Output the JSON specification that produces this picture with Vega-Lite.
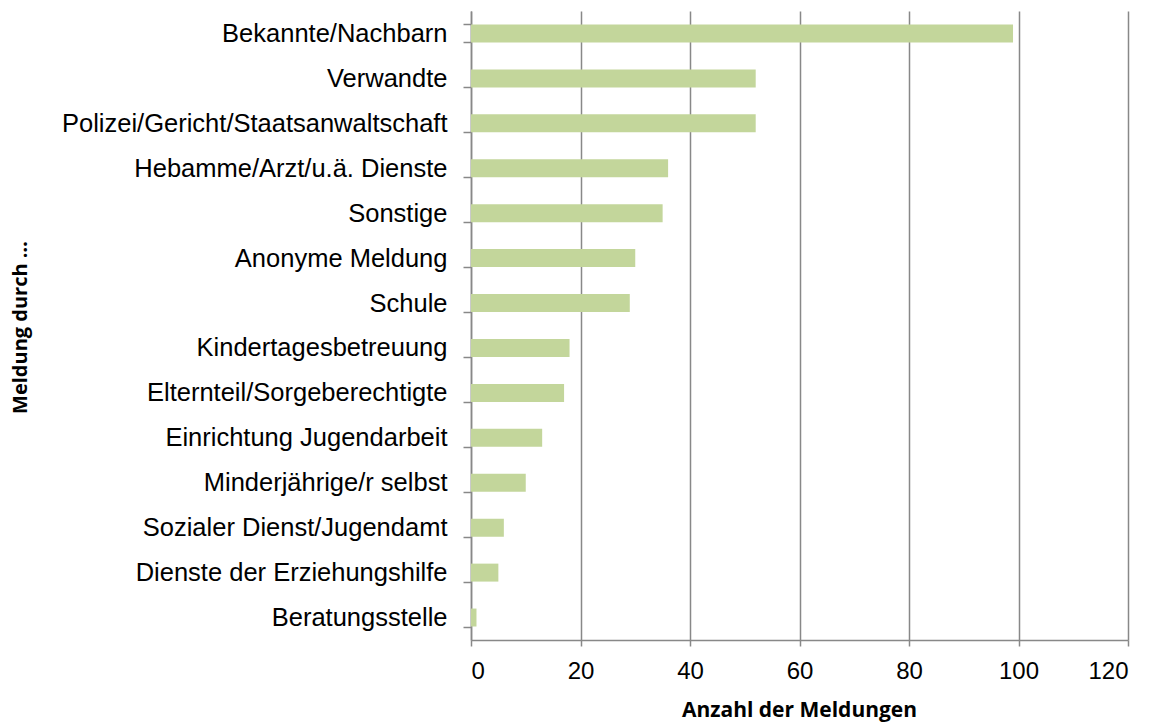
{
  "$schema": "https://vega.github.io/schema/vega-lite/v6.json",
  "width": 657,
  "height": 629,
  "autosize": "none",
  "padding": {"left": 471, "top": 11, "right": 31, "bottom": 86},
  "background": "white",
  "config": {"view": {"stroke": null}},
  "data": {"values": [
    {"quelle": "Bekannte/Nachbarn", "anzahl": 99},
    {"quelle": "Verwandte", "anzahl": 52},
    {"quelle": "Polizei/Gericht/Staatsanwaltschaft", "anzahl": 52},
    {"quelle": "Hebamme/Arzt/u.ä. Dienste", "anzahl": 36},
    {"quelle": "Sonstige", "anzahl": 35},
    {"quelle": "Anonyme Meldung", "anzahl": 30},
    {"quelle": "Schule", "anzahl": 29},
    {"quelle": "Kindertagesbetreuung", "anzahl": 18},
    {"quelle": "Elternteil/Sorgeberechtigte", "anzahl": 17},
    {"quelle": "Einrichtung Jugendarbeit", "anzahl": 13},
    {"quelle": "Minderjährige/r selbst", "anzahl": 10},
    {"quelle": "Sozialer Dienst/Jugendamt", "anzahl": 6},
    {"quelle": "Dienste der Erziehungshilfe", "anzahl": 5},
    {"quelle": "Beratungsstelle", "anzahl": 1}
  ]},
  "mark": {"type": "bar", "color": "#c3d69b"},
  "encoding": {
    "y": {
      "field": "quelle", "type": "nominal", "sort": null,
      "scale": {"paddingInner": 0.6, "paddingOuter": 0.3},
      "axis": {
        "title": "Meldung durch …",
        "titleFont": "Open Sans", "titleFontWeight": "bold", "titleFontSize": 20, "titleColor": "#000",
        "titleX": -451, "titleY": 316, "titleAngle": 270, "titleAlign": "center", "titleBaseline": "middle",
        "labelFont": "Liberation Sans", "labelFontSize": 25.5, "labelColor": "#000",
        "labelPadding": 16, "labelLimit": 500,
        "tickBand": "extent", "tickSize": 8, "tickColor": "#888", "tickWidth": 1.5,
        "domainColor": "#888", "domainWidth": 1.5, "grid": false
      }
    },
    "x": {
      "field": "anzahl", "type": "quantitative",
      "scale": {"domain": [0, 120], "nice": false},
      "axis": {
        "title": "Anzahl der Meldungen",
        "titleFont": "Open Sans", "titleFontWeight": "bold", "titleFontSize": 21, "titleColor": "#000",
        "titleX": 328, "titleY": 70, "titleAlign": "center", "titleBaseline": "middle",
        "values": [0, 20, 40, 60, 80, 100, 120],
        "labelFont": "Liberation Sans", "labelFontSize": 24, "labelColor": "#000",
        "labelPadding": 13,
        "tickSize": 6, "tickColor": "#888", "tickWidth": 1.5,
        "domainColor": "#888", "domainWidth": 1.5,
        "grid": true, "gridColor": "#888", "gridWidth": 1.5
      }
    }
  }
}
